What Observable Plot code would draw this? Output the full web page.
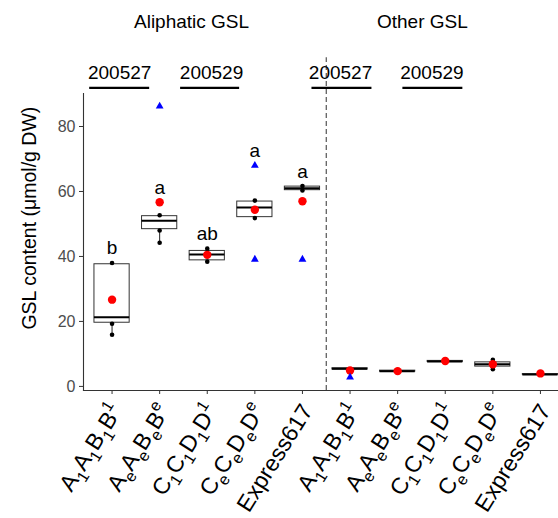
<!DOCTYPE html>
<html><head><meta charset="utf-8">
<script src="https://cdn.jsdelivr.net/npm/d3@7"></script>
<script src="https://cdn.jsdelivr.net/npm/@observablehq/plot@0.6"></script>
<style>body{margin:0;background:#fff} svg{font-family:"Liberation Sans",Arial,sans-serif}</style>
</head><body><div id="chart"></div>
<script>
// ---- data ----
const tickLabels = ["A_1A_1B_1B^1","A_eA_eB_eB^e","C_1C_1D_1D^1","C_eC_eD_eD^e","Express617",
                    "A_1A_1B_1B^1","A_eA_eB_eB^e","C_1C_1D_1D^1","C_eC_eD_eD^e","Express617"];
const q1       = [19.6, 48.4, 38.8, 52.1, 60.4, 5.2, 4.55, 7.55, 6.1, 3.6];
const medians  = [21.3, 51.0, 40.6, 55.1, 61.0, 5.4, 4.7, 7.7, 6.8, 3.7];
const q3       = [37.6, 52.4, 41.7, 56.9, 61.5, 5.6, 4.85, 7.85, 7.4, 3.8];
const whiskLo  = [15.9, 44.2, 38.4, 51.8, 60.3, 5.2, 4.55, 7.55, 5.3, 3.6];
const whiskHi  = [38.0, 52.7, 42.4, 57.2, 61.7, 5.6, 4.85, 7.85, 8.2, 3.8];
const means    = [26.7, 56.7, 40.5, 54.4, 57.0, 4.9, 4.7, 7.8, 6.8, 4.0];
const blackPoints = [[0,38.0],[0,19.3],[0,15.9],[1,52.7],[1,48.0],[1,44.2],[2,42.4],[2,38.4],
                     [3,57.2],[3,51.8],[4,61.7],[4,60.3],[8,8.2],[8,5.3]];
const bluePoints  = [[1,86.2],[3,68.0],[3,39.1],[4,39.1],[5,2.8]];
const letters     = ["b","a","ab","a","a"];
const letterValue = [40.8, 59.3, 45.2, 70.5, 64.2];
const yTicks = [0, 20, 40, 60, 80];
const panelTitles = ["Aliphatic GSL", "Other GSL"];
const panelTitleX = [1.67, 6.52];
const dateLabels = ["200527", "200529", "200527", "200529"];
const dateX      = [0.16, 2.09, 4.80, 6.72];
const dateLineX1 = [-0.47, 1.44, 4.20, 6.11];
const dateLineX2 = [0.79, 2.68, 5.46, 7.37];
const yTitle = "GSL content (μmol/g DW)";

// ---- build ----
const boxes = q1.map((v, i) => ({i, q1: v, med: medians[i], q3: q3[i], lo: whiskLo[i], hi: whiskHi[i], mean: means[i]}));
const half = 0.37;
const F = 23;

const chart = Plot.plot({
  width: 558, height: 518,
  marginLeft: 83, marginTop: 93, marginBottom: 128, marginRight: 0,
  style: {fontFamily: "Liberation Sans, Arial, sans-serif", background: "white", overflow: "visible"},
  x: {type: "linear", domain: [-0.6, 9.6], range: [83, 568.5], axis: null},
  y: {domain: [-1.26, 90.16], range: [390, 93], axis: null},
  marks: [
    Plot.frame({anchor: "left", stroke: "#333", strokeWidth: 1.1}),
    Plot.frame({anchor: "bottom", stroke: "#333", strokeWidth: 1.1}),
    Plot.axisY(yTicks, {tickSize: 4, tickPadding: 4, fontSize: 16, fill: "#4d4d4d", stroke: "#333", label: null}),
    Plot.axisX(d3.range(10), {tickSize: 4, tickFormat: () => "", stroke: "#333", label: null}),
    Plot.ruleX([4.5], {y1: -1.26, y2: 101.2, stroke: "#444", strokeWidth: 1.1, strokeDasharray: "5,3"}),
    Plot.ruleX(boxes, {x: "i", y1: "lo", y2: "hi", stroke: "#222", strokeWidth: 1}),
    Plot.rect(boxes, {x1: d => d.i - half, x2: d => d.i + half, y1: "q1", y2: "q3", fill: "white", stroke: "#333", strokeWidth: 1}),
    Plot.ruleY(boxes, {x1: d => d.i - half, x2: d => d.i + half, y: "med", stroke: "black", strokeWidth: 2}),
    Plot.dot(blackPoints, {x: d => d[0], y: d => d[1], r: 2.3, fill: "black"}),
    Plot.dot(boxes, {x: "i", y: "mean", r: 4.2, fill: "#ff0000"}),
    Plot.dot(bluePoints, {x: d => d[0], y: d => d[1], r: 2.9, symbol: "triangle", fill: "#0000ff"}),
    Plot.text(letters, {x: (d, i) => i, y: (d, i) => letterValue[i], text: d => d, fontSize: 19, lineAnchor: "bottom", fill: "black"}),
    Plot.text(panelTitles, {x: (d, i) => panelTitleX[i], y: 110.2, text: d => d, fontSize: 19, lineAnchor: "bottom", fill: "black"}),
    Plot.text(dateLabels, {x: (d, i) => dateX[i], y: 94.7, text: d => d, fontSize: 19, lineAnchor: "bottom", fill: "black"}),
    Plot.ruleY(dateLabels, {x1: (d, i) => dateLineX1[i], x2: (d, i) => dateLineX2[i], y: 91.9, stroke: "black", strokeWidth: 2.2}),
    Plot.text([yTitle], {frameAnchor: "left", dx: -54, y: 51.8, rotate: -90, textAnchor: "middle", text: d => d, fontSize: 19.5, fill: "black"}),
    Plot.text(tickLabels, {x: (d, i) => i, frameAnchor: "bottom", dx: 11, dy: 20, rotate: -58, textAnchor: "end", lineAnchor: "bottom", text: d => d, fontSize: F, fill: "black"})
  ]
});

// rich text for subscripts / superscripts in tick labels
d3.select(chart).selectAll("text").filter(function() { return tickLabels.includes(this.textContent) && /[_^]/.test(this.textContent); })
  .each(function() {
    const raw = this.textContent;
    const sel = d3.select(this);
    sel.text(null);
    const parts = [];
    for (let i = 0; i < raw.length;) {
      const c = raw[i];
      if (c === "_" || c === "^") { parts.push({t: raw[i + 1], k: c}); i += 2; }
      else { parts.push({t: c, k: ""}); i++; }
    }
    let shift = 0;
    for (const p of parts) {
      const target = p.k === "_" ? 0.28 * F : p.k === "^" ? -0.45 * F : 0;
      const ts = sel.append("tspan").text(p.t);
      if (p.k) ts.attr("font-size", (0.7 * F) + "px");
      if (target !== shift) ts.attr("dy", (target - shift) + "px");
      shift = target;
    }
  });

document.getElementById("chart").appendChild(chart);
</script>
</body></html>
